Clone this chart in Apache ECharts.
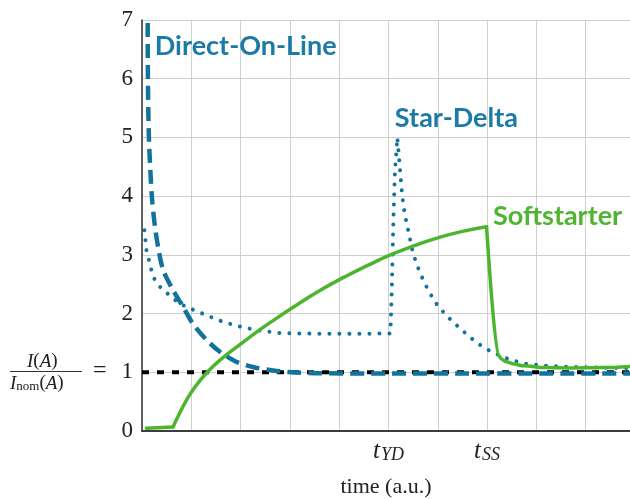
<!DOCTYPE html>
<html><head><meta charset="utf-8">
<script src="https://cdn.jsdelivr.net/npm/echarts@6/dist/echarts.min.js"></script>
<style>html,body{margin:0;padding:0;background:#fff}#c{width:630px;height:499px}</style>
</head><body><div id="c"></div>
<script>
// time axis (a.u.), current ratio I/Inom
const nominal = [[0, 1], [9.9, 1]];
const directOnLine = [[0.115,6.95],[0.12,6],[0.14,5],[0.2,4],[0.26,3.5],[0.33,3.12],[0.43,2.74],[0.63,2.4],[0.83,2.12],[1.03,1.83],[1.31,1.55],[1.58,1.35],[1.91,1.18],[2.25,1.09],[2.66,1.03],[3.06,1.0],[3.5,0.985],[5,0.98],[9.9,0.98]];
const starDelta = [[0.05,3.42],[0.09,3.08],[0.16,2.85],[0.22,2.63],[0.36,2.46],[0.56,2.31],[0.76,2.17],[0.97,2.09],[1.31,1.97],[1.64,1.86],[1.98,1.78],[2.32,1.72],[2.79,1.67],[3.13,1.66],[4,1.655],[5.04,1.66],[5.07,2.5],[5.1,3.6],[5.13,4.4],[5.18,5.0],[5.23,4.5],[5.28,4.0],[5.33,3.7],[5.4,3.42],[5.5,3.02],[5.63,2.71],[5.77,2.46],[5.94,2.2],[6.17,1.97],[6.41,1.78],[6.65,1.6],[6.92,1.43],[7.09,1.35],[7.39,1.24],[7.73,1.15],[8.2,1.11],[8.68,1.09],[9.3,1.08],[9.9,1.07]];
const softstarterStart = [[0.09,0.046],[0.63,0.07]];
const softstarterRise = [[0.63,0.07],[0.75,0.28],[0.9,0.52],[1.05,0.72],[1.3,0.98],[1.6,1.22],[2.0,1.48],[2.4,1.73],[2.8,1.96],[3.2,2.18],[3.6,2.39],[4.1,2.62],[4.6,2.83],[5.1,3.02],[5.6,3.18],[6.0,3.29],[6.5,3.4],[6.99,3.48]];
const softstarterFall = [[6.99,3.48],[7.23,1.29],[7.3,1.22],[7.39,1.18],[7.55,1.14],[7.73,1.11],[8.2,1.08],[8.68,1.075],[9.35,1.08],[9.9,1.1]];
const xTickLabels = {5: ['t', 'YD'], 7: ['t', 'SS']};
const yTickLabels = ['0','1','2','3','4','5','6','7'];
const seriesLabels = [
  {name: 'Direct-On-Line', at: [0.26, 6.55], color: '#1b7ba5'},
  {name: 'Star-Delta', at: [5.13, 5.33], color: '#1b7ba5'},
  {name: 'Softstarter', at: [7.12, 3.66], color: '#4fb531'}
];

const serif = '"Liberation Serif", "DejaVu Serif", serif';
const blue = '#12739c', green = '#4cb52e';
const greenLine = {color: green, width: 3.5, join: 'round', cap: 'round'};
const chart = echarts.init(document.getElementById('c'));
chart.setOption({
  animation: false,
  grid: {left: 142, right: 0, top: 20, bottom: 68, outerBoundsMode: 'none', containLabel: false},
  xAxis: [{
    type: 'value', min: 0, max: 9.9, interval: 1,
    axisLine: {show: true, onZero: false, lineStyle: {color: '#333', width: 1.5}},
    axisTick: {show: false},
    splitLine: {show: true, lineStyle: {color: '#cfcfcf', width: 1}},
    axisLabel: {
      margin: 5,
      formatter: v => xTickLabels[v] ? '{t|' + xTickLabels[v][0] + '}{s|' + xTickLabels[v][1] + '}' : '',
      rich: {
        t: {fontFamily: serif, fontStyle: 'italic', fontSize: 25, color: '#222', lineHeight: 28, verticalAlign: 'bottom'},
        s: {fontFamily: serif, fontStyle: 'italic', fontSize: 18, color: '#222', lineHeight: 28, verticalAlign: 'bottom', padding: [10, 0, 0, 1]}
      }
    },
    name: 'time (a.u.)', nameLocation: 'middle', nameGap: 45,
    nameTextStyle: {fontFamily: serif, fontSize: 22, color: '#222'}
  }, {
    type: 'value', min: 0, max: 9.9, position: 'top',
    axisLine: {show: true, lineStyle: {color: '#333', width: 1.5}},
    axisTick: {show: false}, axisLabel: {show: false}, splitLine: {show: false}
  }],
  yAxis: {
    type: 'value', min: 0, max: 7, interval: 1,
    axisLine: {show: true, lineStyle: {color: '#333', width: 1.5}},
    axisTick: {show: false},
    splitLine: {show: true, lineStyle: {color: '#cfcfcf', width: 1}},
    axisLabel: {
      margin: 9, fontFamily: serif, fontSize: 23, color: '#222',
      formatter: v => yTickLabels[v] || ''
    }
  },
  graphic: [{
    type: 'text', left: 27, top: 352,
    style: {
      text: '{i|I}{n|(}{i|A}{n|)}',
      rich: {
        i: {fontFamily: serif, fontStyle: 'italic', fontSize: 19, fill: '#222'},
        n: {fontFamily: serif, fontSize: 19, fill: '#222'}
      }
    }
  }, {
    type: 'rect', shape: {x: 10, y: 371, width: 72, height: 1}, style: {fill: '#333'}
  }, {
    type: 'text', left: 10, top: 374,
    style: {
      text: '{i|I}{s|nom}{n|(}{i|A}{n|)}',
      rich: {
        i: {fontFamily: serif, fontStyle: 'italic', fontSize: 19, fill: '#222', verticalAlign: 'bottom', lineHeight: 22},
        s: {fontFamily: serif, fontSize: 13, fill: '#222', verticalAlign: 'bottom', lineHeight: 22, padding: [6, 0, 0, 0]},
        n: {fontFamily: serif, fontSize: 19, fill: '#222', verticalAlign: 'bottom', lineHeight: 22}
      }
    }
  }, {
    type: 'text', left: 93, top: 359,
    style: {text: '=', fontFamily: serif, fontSize: 24, fill: '#222'}
  }],
  series: [{
    type: 'line', data: nominal, symbol: 'none', z: 2,
    lineStyle: {color: '#000', width: 4, type: [7, 8]}
  }, {
    type: 'line', data: directOnLine, symbol: 'none', z: 3, smooth: 0.3,
    lineStyle: {color: blue, width: 4.5, type: [14, 7]}
  }, {
    type: 'line', data: starDelta, symbol: 'none', z: 4,
    lineStyle: {color: blue, width: 4, type: [0.01, 10], cap: 'round'}
  }, {
    type: 'line', data: softstarterStart, symbol: 'none', z: 5,
    lineStyle: greenLine,
    markPoint: {
      symbol: 'circle', symbolSize: 0,
      data: seriesLabels.map(s => ({
        coord: s.at, value: s.name,
        label: {show: true, position: 'right', distance: 0, formatter: s.name,
          fontFamily: 'Lato, "Open Sans", sans-serif', fontWeight: 'bold', fontSize: 27, color: s.color}
      }))
    }
  }, {
    type: 'line', data: softstarterRise, symbol: 'none', z: 5, smooth: 0.5,
    lineStyle: greenLine
  }, {
    type: 'line', data: softstarterFall, symbol: 'none', z: 5, smooth: 0.3, smoothMonotone: 'x',
    lineStyle: greenLine
  }]
});
</script></body></html>
